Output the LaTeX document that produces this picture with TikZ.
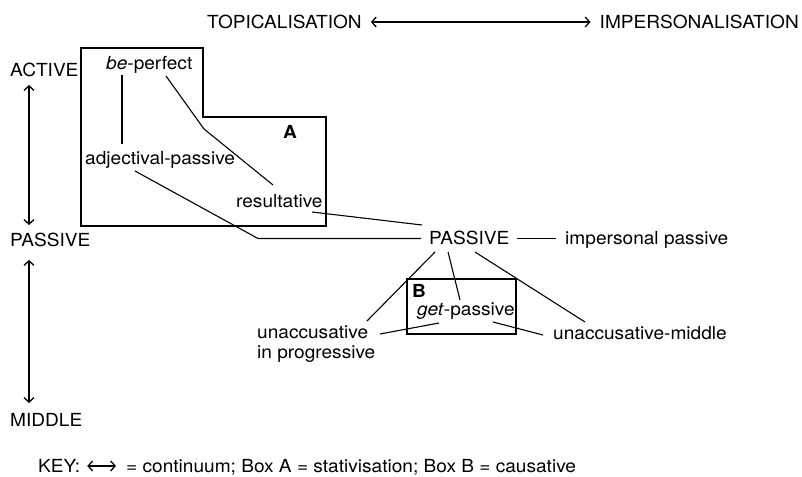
\documentclass[tikz,border=0pt]{standalone}
\usepackage{fontspec}
\setmainfont{TeX Gyre Heros}[FakeStretch=1.06]
\usetikzlibrary{arrows.meta,calc}
\begin{document}
\begin{tikzpicture}[x=1pt,y=-1pt,
  lbl/.style={inner sep=0pt,anchor=base west,font=\fontsize{18}{20}\selectfont},
  conn/.style={line width=1.1pt},
  boxline/.style={line width=1.4pt},
  cont/.style={line width=1.3pt,{Straight Barb[length=4.5pt,width=10pt]}-{Straight Barb[length=4.5pt,width=10pt]}}]
\useasboundingbox (0,0) rectangle (802,476);
% labels
\node[lbl] (topic) at (207,28.5) {TOPICALISATION};
\node[lbl,anchor=base east] (impers) at (799,28.5) {IMPERSONALISATION};
\node[lbl] (active) at (10,76.5) {ACTIVE};
\node[lbl] (passL) at (10,246.5) {PASSIVE};
\node[lbl] (middle) at (10,426.5) {MIDDLE};
\node[lbl] (beperf) at (106,69.5) {\textit{be}-perfect};
\node[lbl] (adjpass) at (85,164.5) {adjectival-passive};
\node[lbl] (result) at (236,207.5) {resultative};
\node[lbl,font=\fontsize{18}{20}\selectfont\bfseries] (Alab) at (283,138.5) {A};
\node[lbl] (passive) at (429,244.5) {PASSIVE};
\node[lbl] (imppass) at (565,244.5) {impersonal passive};
\node[lbl,font=\fontsize{18}{20}\selectfont\bfseries] (Blab) at (412,297.5) {B};
\node[lbl] (getpass) at (417,315.5) {\textit{get}-passive};
\node[lbl] (unacc) at (257,338.5) {\begin{tabular}[t]{@{}l@{}}unaccusative\\in progressive\end{tabular}};
\node[lbl] (unmid) at (553,339.5) {unaccusative-middle};
\node[lbl] (keylbl) at (38,472.5) {KEY:};
\node[lbl] (keytxt) at (126,472.5) {= continuum; Box A = stativisation; Box B = causative};
% boxes
\draw[boxline] (81,48) -- (203,48) -- (203,117) -- (326,117) -- (326,226) -- (81,226) -- cycle;
\draw[boxline] (407,279) rectangle (516,334);
% continua
\draw[cont] ($(topic.base east)+(9,-6.5)$) -- ($(impers.base west)+(-9,-6.5)$);
\draw[cont] ($(active.base west)+(19,8.5)$) -- ($(passL.base west)+(19,-21.5)$);
\draw[cont] ($(passL.base west)+(19,13.5)$) -- ($(middle.base west)+(19,-23.5)$);
\draw[cont] ($(keylbl.base east)+(7,-6.5)$) -- ($(keytxt.base west)+(-10,-6.5)$);
% connectors
\draw[conn] ($(beperf.base west)+(16,5.5)$) -- ($(adjpass.base west)+(37,-20.5)$);
\draw[conn] ($(beperf.base west)+(60,6.5)$) -- (204,129) -- ($(result.base west)+(37,-22.5)$);
\draw[conn] ($(adjpass.base west)+(50,6.5)$) -- ($(passive.base west)+(-171,-6)$) -- ($(passive.base west)+(-8,-6)$);
\draw[conn] ($(result.base west)+(76,4.5)$) -- ($(passive.base west)+(-7,-19.5)$);
\draw[conn] ($(passive.base east)+(7,-6)$) -- ($(imppass.base west)+(-9,-6)$);
\draw[conn] ($(passive.base west)+(6,7.5)$) -- ($(unacc.base west)+(110,-17.5)$);
\draw[conn] ($(passive.base west)+(19,7.5)$) -- ($(getpass.base west)+(43,-15.5)$);
\draw[conn] ($(passive.base west)+(46,7.5)$) -- ($(unmid.base west)+(32,-17.5)$);
\draw[conn] ($(getpass.base west)+(22,7.5)$) -- ($(unacc.base west)+(123,-4.5)$);
\draw[conn] ($(getpass.base west)+(76,6.5)$) -- ($(unmid.base west)+(-10,-4.5)$);
\end{tikzpicture}
\end{document}
